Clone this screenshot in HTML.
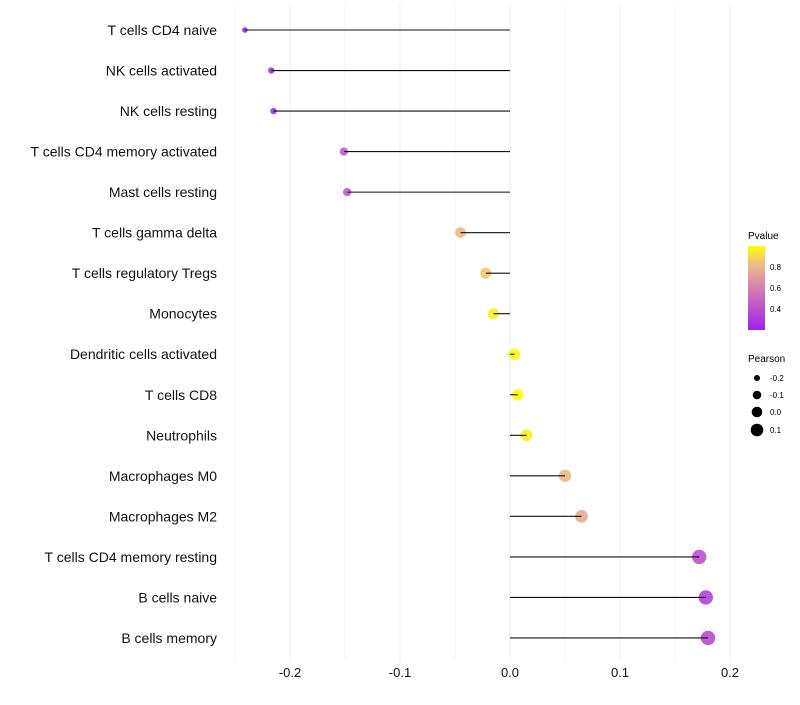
<!DOCTYPE html>
<html><head><meta charset="utf-8"><style>
body{margin:0;background:#fff;font-family:"Liberation Sans",sans-serif;}
svg text{font-family:"Liberation Sans",sans-serif;}
</style></head><body>
<svg id="chart" width="800" height="700" xmlns="http://www.w3.org/2000/svg">
<defs><linearGradient id="pg" x1="0" y1="1" x2="0" y2="0">
<stop offset="0" stop-color="#a020f0"/><stop offset="0.5" stop-color="#d580b0"/><stop offset="0.8" stop-color="#f0c080"/><stop offset="1" stop-color="#ffff00"/></linearGradient></defs>
<g id="grid"></g>
<g id="marks"></g>
<g id="axes"></g>
<g>
<text x="748" y="239" font-size="10">Pvalue</text>
<rect x="748" y="246" width="17" height="84" fill="url(#pg)"/>
<text x="770" y="270" font-size="8">0.8</text>
<text x="770" y="291" font-size="8">0.6</text>
<text x="770" y="312" font-size="8">0.4</text>
</g>
<g>
<text x="748" y="362" font-size="10">Pearson</text>
<circle cx="757" cy="378" r="3" fill="#000"/>
<circle cx="757" cy="395" r="4.3" fill="#000"/>
<circle cx="757" cy="412" r="5.3" fill="#000"/>
<circle cx="757" cy="430" r="6.3" fill="#000"/>
<text x="770" y="381" font-size="8">-0.2</text>
<text x="770" y="398" font-size="8">-0.1</text>
<text x="770" y="415" font-size="8">0.0</text>
<text x="770" y="433" font-size="8">0.1</text>
</g>
</svg>
<script>
const categories=["T cells CD4 naive","NK cells activated","NK cells resting","T cells CD4 memory activated","Mast cells resting","T cells gamma delta","T cells regulatory  Tregs ","Monocytes","Dendritic cells activated","T cells CD8","Neutrophils","Macrophages M0","Macrophages M2","T cells CD4 memory resting","B cells naive","B cells memory"];
const pearson=[-0.241,-0.217,-0.215,-0.151,-0.148,-0.045,-0.022,-0.015,0.004,0.007,0.015,0.05,0.065,0.172,0.178,0.18];
const pvalue=[0.2,0.25,0.27,0.45,0.45,0.8,0.85,0.95,0.97,0.98,0.95,0.8,0.75,0.4,0.35,0.38];
const xTicks=[-0.2,-0.1,0.0,0.1,0.2];
const NS="http://www.w3.org/2000/svg";
const xs=v=>510+v*1100;
const ys=i=>30+i*40.53;
const rs=v=>Math.sqrt(Math.max(2,33+105*v));
function lerp(a,b,t){return Math.round(a+(b-a)*t);}
const stops=[[0.205,[160,32,240]],[0.6,[213,128,176]],[0.83,[240,192,128]],[0.986,[255,255,0]]];
function col(p){p=Math.max(stops[0][0],Math.min(stops[3][0],p));for(let k=0;k<3;k++){const[a,ca]=stops[k],[b,cb]=stops[k+1];if(p<=b){const t=(p-a)/(b-a);return`rgb(${lerp(ca[0],cb[0],t)},${lerp(ca[1],cb[1],t)},${lerp(ca[2],cb[2],t)})`;}}}
function mk(t,a,p){const e=document.createElementNS(NS,t);for(const k in a)e.setAttribute(k,a[k]);p.appendChild(e);return e;}
const grid=document.getElementById('grid'),marks=document.getElementById('marks'),axes=document.getElementById('axes');
for(let v=-0.25;v<=0.201;v+=0.05){const g=mk('line',{x1:xs(v),x2:xs(v),y1:5,y2:662,stroke:'#ededed','stroke-width':Math.abs(Math.round(v*10)-v*10)<0.01?1:0.6},grid);

}
xTicks.forEach(v=>{const t=mk('text',{x:xs(v),y:677,'font-size':13,'text-anchor':'middle',fill:'#111'},axes);t.textContent=v.toFixed(1);

});
categories.forEach((c,i)=>{const y=ys(i);
const t=mk('text',{x:217,y:y+5,'font-size':14,'text-anchor':'end',fill:'#111','xml:space':'preserve'},axes);t.textContent=c;


const p=mk('circle',{cx:xs(pearson[i]),cy:y,r:rs(pearson[i]),fill:col(pvalue[i]),'fill-opacity':0.9},marks);


const l=mk('line',{x1:xs(0),x2:xs(pearson[i]),y1:y,y2:y,stroke:'#111','stroke-width':1.1},marks);

});
</script>
</body></html>
